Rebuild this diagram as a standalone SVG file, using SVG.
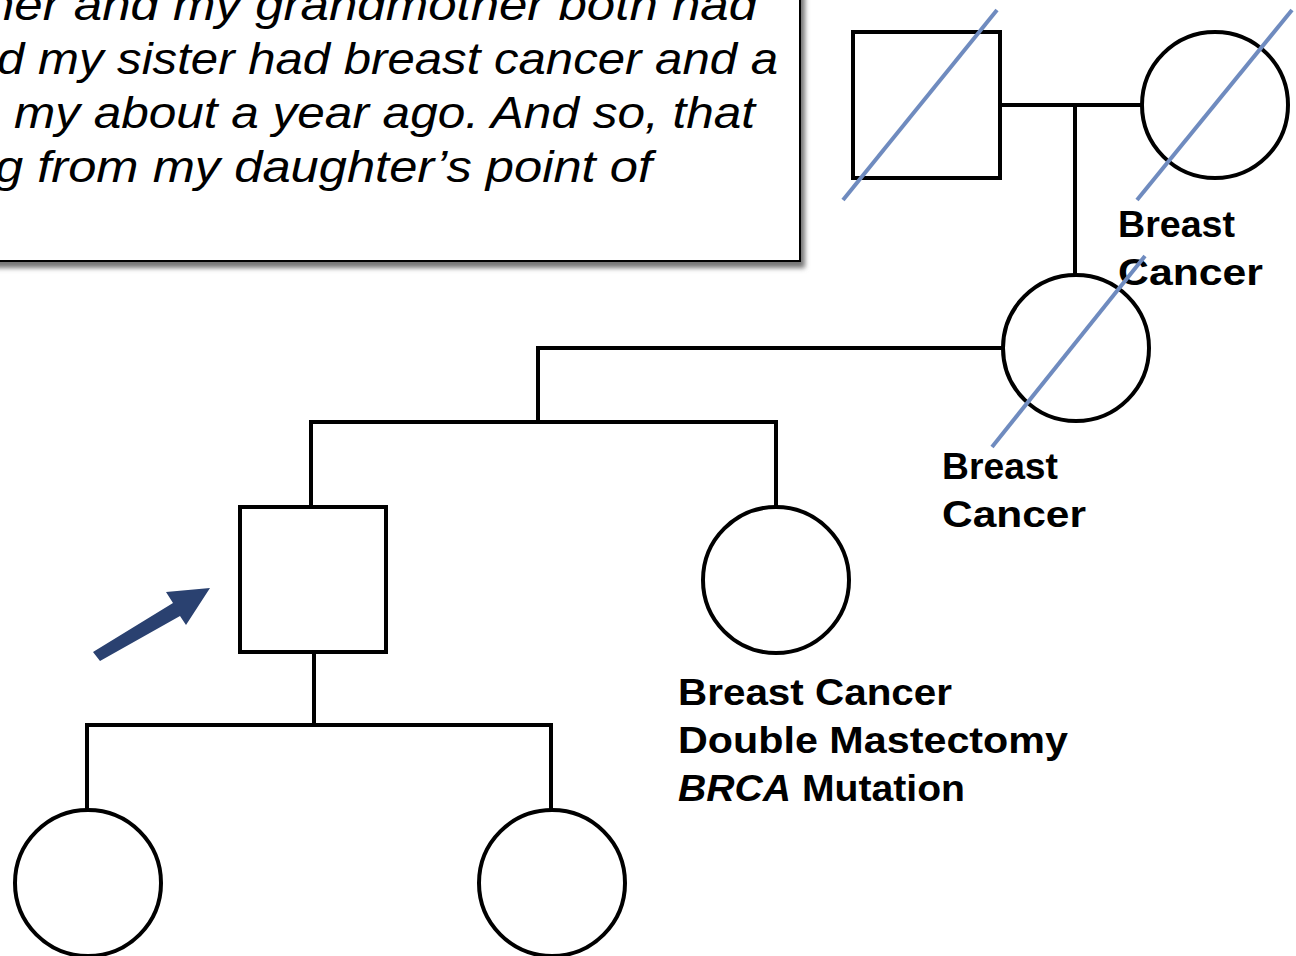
<svg xmlns="http://www.w3.org/2000/svg" width="1296" height="956" viewBox="0 0 1296 956">
<style>
.sym{fill:#fff;stroke:#000;stroke-width:4}
.ln{stroke:#000;stroke-width:4;fill:none}
.slash{stroke:#6f8bbf;stroke-width:4;fill:none}
.lbl{font-family:"Liberation Sans",Arial,sans-serif;font-weight:bold;font-size:36px;fill:#000}
.quote{font-family:"Liberation Sans",Arial,sans-serif;font-style:italic;font-size:44px;fill:#000}
</style>
<defs>
<filter id="sh" x="-5%" y="-5%" width="115%" height="120%">
<feGaussianBlur stdDeviation="2.5"/>
</filter>
</defs>
<rect width="1296" height="956" fill="#fff"/>
<g id="quote-box">
<rect x="-10" y="-10" width="812" height="275" fill="#777" filter="url(#sh)" transform="translate(3,3)"/>
<rect x="-10" y="-10" width="810" height="271" fill="#fff" stroke="#000" stroke-width="2"/>
<text class="quote" x="-14" y="20" textLength="771" lengthAdjust="spacingAndGlyphs">her and my grandmother both had</text>
<text class="quote" x="-3" y="74" textLength="781" lengthAdjust="spacingAndGlyphs">d my sister had breast cancer and a</text>
<text class="quote" x="14" y="128" textLength="741" lengthAdjust="spacingAndGlyphs">my about a year ago. And so, that</text>
<text class="quote" x="-5" y="182" textLength="657" lengthAdjust="spacingAndGlyphs">g from my daughter’s point of</text>
</g>
<g id="connectors">
<line class="ln" x1="1000" y1="105" x2="1142" y2="105"/>
<line class="ln" x1="1075" y1="105" x2="1075" y2="276"/>
<polyline class="ln" points="1003,348 538,348 538,422"/>
<polyline class="ln" points="311,507 311,422 776,422 776,507"/>
<line class="ln" x1="314" y1="652" x2="314" y2="725"/>
<polyline class="ln" points="87,810 87,725 551,725 551,810"/>
</g>
<g id="grandfather">
<rect class="sym" x="853" y="32" width="147" height="146"/>
<line class="slash" x1="843" y1="200" x2="997" y2="10"/>
</g>
<g id="grandmother">
<circle class="sym" cx="1215" cy="105" r="73"/>
<line class="slash" x1="1137" y1="200" x2="1292" y2="10"/>
<text class="lbl" x="1118" y="237" textLength="117" lengthAdjust="spacingAndGlyphs">Breast</text>
<text class="lbl" x="1118" y="285" textLength="145" lengthAdjust="spacingAndGlyphs">Cancer</text>
</g>
<g id="mother">
<circle class="sym" cx="1076" cy="348" r="73"/>
<line class="slash" x1="992" y1="447" x2="1145" y2="256"/>
<text class="lbl" x="942" y="479" textLength="116" lengthAdjust="spacingAndGlyphs">Breast</text>
<text class="lbl" x="942" y="527" textLength="144" lengthAdjust="spacingAndGlyphs">Cancer</text>
</g>
<g id="proband">
<rect class="sym" x="240" y="507" width="146" height="145"/>
</g>
<g id="proband-arrow">
<polygon fill="#2a4170" points="93,652 173,603 166,592 210,588 186,625 180,616 100,661"/>
</g>
<g id="sister">
<circle class="sym" cx="776" cy="580" r="73"/>
<text class="lbl" x="678" y="705" textLength="274" lengthAdjust="spacingAndGlyphs">Breast Cancer</text>
<text class="lbl" x="678" y="753" textLength="390" lengthAdjust="spacingAndGlyphs">Double Mastectomy</text>
<text class="lbl" x="678" y="801" textLength="287" lengthAdjust="spacingAndGlyphs"><tspan font-style="italic">BRCA</tspan> Mutation</text>
</g>
<g id="daughter1">
<circle class="sym" cx="88" cy="883" r="73"/>
</g>
<g id="daughter2">
<circle class="sym" cx="552" cy="883" r="73"/>
</g>
</svg>
